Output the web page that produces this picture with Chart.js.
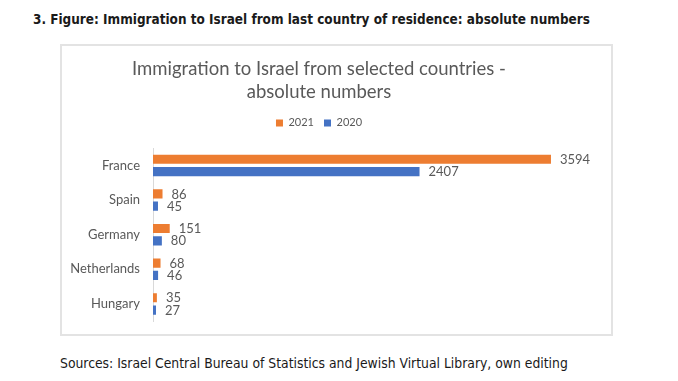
<!DOCTYPE html>
<html>
<head>
<meta charset="utf-8">
<script src="https://cdn.jsdelivr.net/npm/chart.js@4/dist/chart.umd.min.js"></script>
<style>
  html, body { margin: 0; padding: 0; background: #ffffff; width: 678px; height: 381px; overflow: hidden; }
  #heading { position: absolute; left: 33px; top: 10px; font-family: "DejaVu Sans Condensed", "DejaVu Sans", sans-serif; font-weight: bold; font-size: 13.45px; color: #1a1a1a; white-space: nowrap; line-height: 19px; }
  #box { position: absolute; left: 60px; top: 44px; width: 549px; height: 288px; border: 2px solid #e3e3e3; }
  #wrap { position: absolute; left: 62px; top: 46px; width: 549px; height: 288px; }
  #sources { position: absolute; left: 60px; top: 354px; font-family: "DejaVu Sans Condensed", "DejaVu Sans", sans-serif; font-size: 13.8px; color: #1a1a1a; white-space: nowrap; line-height: 19px; }
</style>
</head>
<body>
<div id="heading">3. Figure: Immigration to Israel from last country of residence: absolute numbers</div>
<div id="box"></div>
<div id="wrap"><canvas id="c" width="549" height="288"></canvas></div>
<div id="sources">Sources: Israel Central Bureau of Statistics and Jewish Virtual Library, own editing</div>
<script>
const countries = ["France", "Spain", "Germany", "Netherlands", "Hungary"];
const values2021 = [3594, 86, 151, 68, 35];
const values2020 = [2407, 45, 80, 46, 27];
const seriesNames = ["2021", "2020"];
const chartTitle = ["Immigration to Israel from selected countries -", "absolute numbers"];

const FONT = "Lato, 'Open Sans', sans-serif";
const GREY = "#595959";

const legendSpacer = {
  id: 'legendSpacer',
  beforeInit(chart) {
    const origFit = chart.legend.fit;
    chart.legend.fit = function () {
      origFit.bind(chart.legend)();
      this.height += 9.7;
    };
  }
};

const valueLabels = {
  id: 'valueLabels',
  afterDatasetsDraw(chart) {
    const ctx = chart.ctx;
    ctx.save();
    ctx.font = "13px " + FONT;
    ctx.fillStyle = GREY;
    ctx.textAlign = 'left';
    ctx.textBaseline = 'middle';
    chart.data.datasets.forEach((ds, di) => {
      const meta = chart.getDatasetMeta(di);
      meta.data.forEach((el, i) => {
        ctx.fillText(String(ds.data[i]), el.x + 9, el.y + 0.5);
      });
    });
    ctx.restore();
  }
};

new Chart(document.getElementById('c'), {
  type: 'bar',
  data: {
    labels: countries,
    datasets: [
      { label: seriesNames[0], data: values2021, backgroundColor: '#ED7D31', categoryPercentage: 0.71, barPercentage: 0.75 },
      { label: seriesNames[1], data: values2020, backgroundColor: '#4472C4', categoryPercentage: 0.71, barPercentage: 0.75 }
    ]
  },
  options: {
    indexAxis: 'y',
    responsive: false,
    animation: false,
    devicePixelRatio: 1,
    layout: { padding: { left: 0, right: 35, top: 0, bottom: 10 } },
    scales: {
      x: { display: false, min: 0, max: 3820 },
      y: {
        grid: { display: false },
        border: { display: true, color: '#d9d9d9', width: 1 },
        ticks: { color: GREY, font: { family: FONT, size: 13 }, padding: 5 },
        afterFit(scale) { scale.width = 91; }
      }
    },
    plugins: {
      title: {
        display: true,
        text: chartTitle,
        color: GREY,
        font: { family: FONT, size: 18.5, weight: 'normal', lineHeight: 1.24 },
        padding: { top: 11.5, bottom: 4 }
      },
      legend: {
        display: true,
        labels: { color: GREY, font: { family: FONT, size: 11 }, boxWidth: 7, boxHeight: 7, padding: 10 }
      },
      tooltip: { enabled: false }
    }
  },
  plugins: [legendSpacer, valueLabels]
});
</script>
</body>
</html>
